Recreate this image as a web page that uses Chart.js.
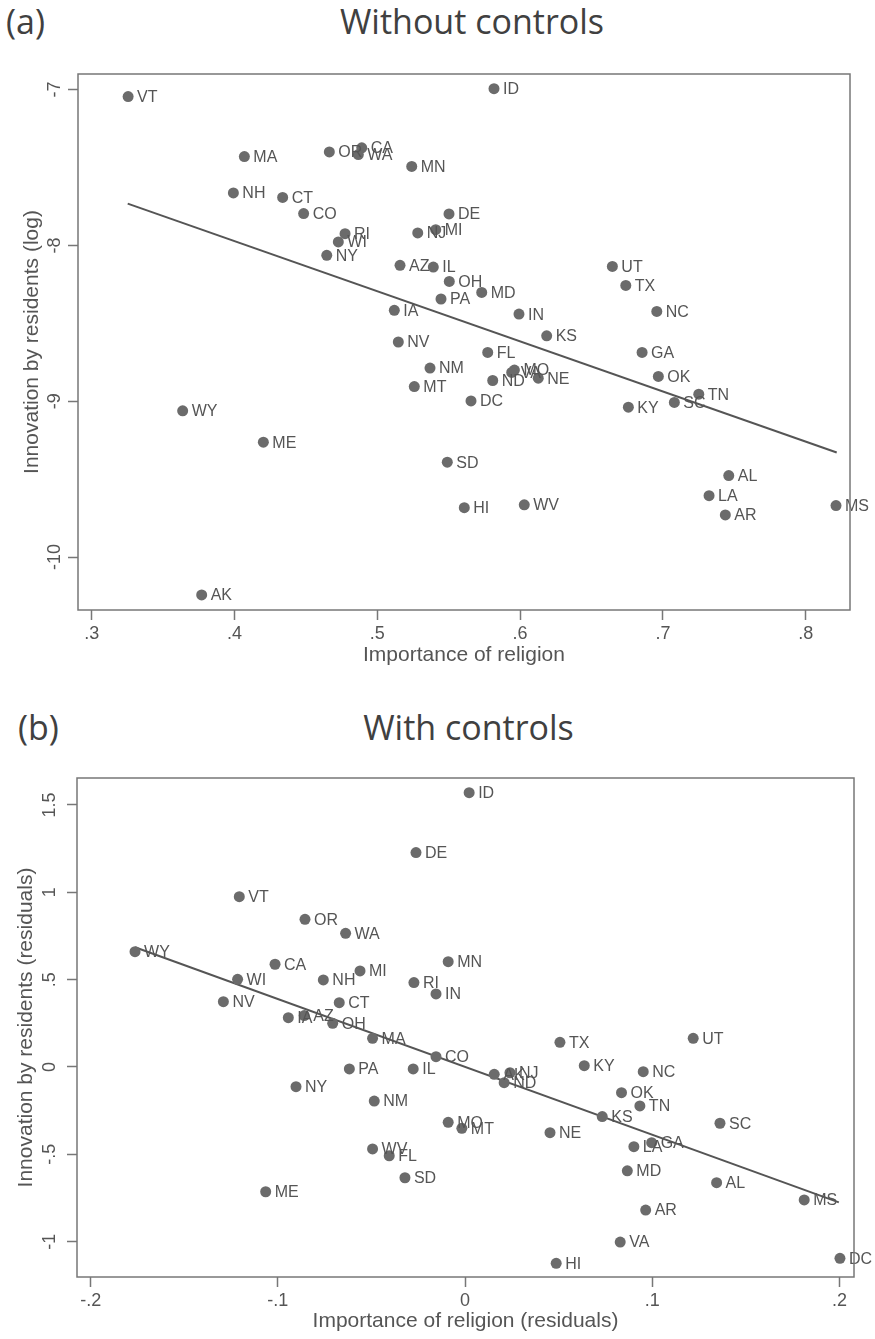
<!DOCTYPE html>
<html>
<head>
<meta charset="utf-8">
<script src="https://cdn.jsdelivr.net/npm/chart.js@4.4.1/dist/chart.umd.min.js"></script>
<style>
  body { margin: 0; background: #fff; width: 875px; height: 1339px; position: relative; overflow: hidden; }
  .head { position: absolute; font-family: "Open Sans", sans-serif; font-size: 34px; line-height: 44px; color: #404040; white-space: nowrap; }
  .box { position: absolute; left: 0; width: 875px; }
</style>
</head>
<body>
<div class="head" style="left:6px; top:-1px;">(a)</div>
<div class="head" style="left:86px; width:772px; top:-1px; text-align:center;">Without controls</div>
<div class="box" style="top:50px; height:630px;"><canvas id="chartA" width="875" height="630"></canvas></div>

<div class="head" style="left:18px; top:705px;">(b)</div>
<div class="head" style="left:80px; width:777px; top:705px; text-align:center;">With controls</div>
<div class="box" style="top:740px; height:597px;"><canvas id="chartB" width="875" height="597"></canvas></div>

<script>
// (a) without controls
const statesA = ['VT','ID','MA','OR','CA','WA','MN','NH','CT','CO','DE','NJ','MI','RI','WI','NY','AZ','IL','OH','PA','MD','IA','IN','KS','UT','TX','NC','NV','FL','GA','NM','MO','VA','ND','MT','NE','OK','DC','TN','SC','KY','WY','ME','SD','HI','WV','AL','LA','AR','MS','AK'];
const religionA = [0.3255,0.5817,0.4069,0.4664,0.4891,0.4867,0.5241,0.3992,0.4337,0.4484,0.5502,0.5283,0.5409,0.4774,0.4727,0.4646,0.5159,0.5392,0.5504,0.5446,0.5731,0.5119,0.5992,0.6186,0.6646,0.6740,0.6957,0.5147,0.5773,0.6854,0.5369,0.5960,0.5941,0.5808,0.5259,0.6127,0.6968,0.5656,0.7251,0.7080,0.6758,0.3637,0.4202,0.5490,0.5609,0.6029,0.7461,0.7323,0.7437,0.8212,0.3770];
const innovA = [-7.045,-6.994,-7.430,-7.400,-7.374,-7.417,-7.493,-7.663,-7.692,-7.796,-7.798,-7.920,-7.899,-7.925,-7.978,-8.064,-8.128,-8.139,-8.231,-8.344,-8.302,-8.417,-8.441,-8.580,-8.135,-8.257,-8.424,-8.620,-8.687,-8.687,-8.787,-8.800,-8.815,-8.867,-8.906,-8.852,-8.841,-8.998,-8.955,-9.008,-9.038,-9.062,-9.263,-9.391,-9.683,-9.665,-9.477,-9.606,-9.730,-9.670,-10.243];
const fitXA = [0.3252, 0.8217];
const fitYA = [-7.732, -9.329];
const xTicksA = [0.3, 0.4, 0.5, 0.6, 0.7, 0.8];
const xTickLabelsA = ['.3', '.4', '.5', '.6', '.7', '.8'];
const yTicksA = [-10, -9, -8, -7];
const yTickLabelsA = ['-10', '-9', '-8', '-7'];

// (b) with controls
const statesB = ['ID','DE','VT','OR','WA','WY','CA','MN','MI','WI','NH','RI','IN','NV','CT','IA','AZ','OH','MA','CO','PA','IL','NY','NM','WV','FL','SD','ME','MO','MT','NE','TX','KY','UT','NC','OK','TN','KS','SC','AK','NJ','ND','LA','GA','MD','AL','MS','AR','VA','HI','DC'];
const religionB = [0.0022,-0.0262,-0.1206,-0.0855,-0.0638,-0.1763,-0.1015,-0.0090,-0.0561,-0.1215,-0.0757,-0.0273,-0.0155,-0.1291,-0.0672,-0.0944,-0.0859,-0.0707,-0.0494,-0.0155,-0.0618,-0.0277,-0.0903,-0.0485,-0.0494,-0.0405,-0.0321,-0.1065,-0.0090,-0.0017,0.0454,0.0507,0.0637,0.1219,0.0952,0.0836,0.0934,0.0733,0.1362,0.0156,0.0240,0.0209,0.0902,0.0997,0.0867,0.1344,0.1812,0.0965,0.0829,0.0487,0.2003];
const innovB = [1.570,1.227,0.975,0.845,0.765,0.660,0.588,0.603,0.550,0.502,0.498,0.483,0.418,0.374,0.368,0.282,0.294,0.250,0.164,0.059,-0.011,-0.011,-0.113,-0.195,-0.469,-0.508,-0.634,-0.714,-0.317,-0.351,-0.376,0.141,0.0075,0.164,-0.027,-0.147,-0.223,-0.284,-0.322,-0.042,-0.033,-0.090,-0.456,-0.433,-0.594,-0.662,-0.761,-0.819,-1.002,-1.124,-1.095];
const fitXB = [-0.1763, 0.1997];
const fitYB = [0.685, -0.775];
const xTicksB = [-0.2, -0.1, 0, 0.1, 0.2];
const xTickLabelsB = ['-.2', '-.1', '0', '.1', '.2'];
const yTicksB = [-1, -0.5, 0, 0.5, 1, 1.5];
const yTickLabelsB = ['-1', '-.5', '0', '.5', '1', '1.5'];

const ink = '#555';
const dotColor = '#6b6b6b';
const sans = '"Liberation Sans", Arial, sans-serif';

// state names to the right of each dot
const stateLabels = {
    id: 'stateLabels',
    afterDatasetsDraw(chart) {
        const names = chart.options.plugins.stateLabels.names;
        const meta = chart.getDatasetMeta(0);
        const ctx = chart.ctx;
        ctx.save();
        ctx.font = '16px ' + sans;
        ctx.fillStyle = ink;
        ctx.textBaseline = 'middle';
        meta.data.forEach((pt, i) => ctx.fillText(names[i], pt.x + 9, pt.y + 1));
        ctx.restore();
    }
};

// frame around the plot region
const frame = {
    id: 'frame',
    afterDraw(chart) {
        const a = chart.chartArea;
        const ctx = chart.ctx;
        ctx.save();
        ctx.strokeStyle = '#777';
        ctx.lineWidth = 1.5;
        ctx.strokeRect(a.left, a.top, a.right - a.left, a.bottom - a.top);
        ctx.restore();
    }
};

function makeChart(id, o) {
    const points = o.x.map((v, i) => ({ x: v, y: o.y[i] }));
    const fit = o.fitX.map((v, i) => ({ x: v, y: o.fitY[i] }));
    return new Chart(document.getElementById(id), {
        type: 'scatter',
        data: {
            datasets: [{
                data: points,
                backgroundColor: dotColor,
                borderWidth: 0,
                pointRadius: 5.5
            }, {
                data: fit,
                showLine: true,
                borderColor: ink,
                borderWidth: 2,
                pointRadius: 0
            }]
        },
        options: {
            responsive: false,
            animation: false,
            layout: { padding: o.pad },
            plugins: {
                legend: { display: false },
                tooltip: { enabled: false },
                stateLabels: { names: o.names }
            },
            scales: {
                x: {
                    type: 'linear',
                    min: o.xMin, max: o.xMax,
                    afterBuildTicks: s => { s.ticks = o.xTicks.map(v => ({ value: v })); },
                    afterFit: s => { s.height = o.xAxisH; },
                    ticks: { callback: (v, i) => o.xLabels[i], font: { family: sans, size: 18 }, color: ink, padding: 3, maxRotation: 0 },
                    grid: { drawOnChartArea: false, tickLength: 10, tickColor: '#777', tickWidth: 1.5 },
                    border: { display: false },
                    title: { display: true, text: o.xTitle, font: { family: sans, size: 21 }, color: ink, padding: { top: 0, bottom: o.xTitlePad } }
                },
                y: {
                    type: 'linear',
                    min: o.yMin, max: o.yMax,
                    afterBuildTicks: s => { s.ticks = o.yTicks.map(v => ({ value: v })); },
                    afterFit: s => { s.width = o.yAxisW; },
                    ticks: { callback: (v, i) => o.yLabels[i], font: { family: sans, size: 18 }, color: ink, padding: o.yTickPad, minRotation: 90, maxRotation: 90, crossAlign: 'center' },
                    grid: { drawOnChartArea: false, tickLength: 10, tickColor: '#777', tickWidth: 1.5 },
                    border: { display: false },
                    title: { display: true, text: o.yTitle, font: { family: sans, size: 21 }, color: ink, padding: { top: o.yTitlePad, bottom: 0 } }
                }
            }
        },
        plugins: [stateLabels, frame]
    });
}

makeChart('chartA', {
    names: statesA, x: religionA, y: innovA, fitX: fitXA, fitY: fitYA,
    xMin: 0.2904, xMax: 0.831, yMin: -10.34, yMax: -6.90,
    xTicks: xTicksA, xLabels: xTickLabelsA, yTicks: yTicksA, yLabels: yTickLabelsA,
    xTitle: 'Importance of religion', yTitle: 'Innovation by residents (log)',
    pad: { top: 24, right: 25, bottom: 0, left: 0 },
    xAxisH: 70, yAxisW: 78, xTitlePad: 12, yTitlePad: 20, yTickPad: 0
});

makeChart('chartB', {
    names: statesB, x: religionB, y: innovB, fitX: fitXB, fitY: fitYB,
    xMin: -0.2073, xMax: 0.2078, yMin: -1.202, yMax: 1.654,
    xTicks: xTicksB, xLabels: xTickLabelsB, yTicks: yTicksB, yLabels: yTickLabelsB,
    xTitle: 'Importance of religion (residuals)', yTitle: 'Innovation by residents (residuals)',
    pad: { top: 38, right: 21, bottom: 0, left: 0 },
    xAxisH: 60, yAxisW: 77, xTitlePad: 3, yTitlePad: 14, yTickPad: 4
});
</script>
</body>
</html>
